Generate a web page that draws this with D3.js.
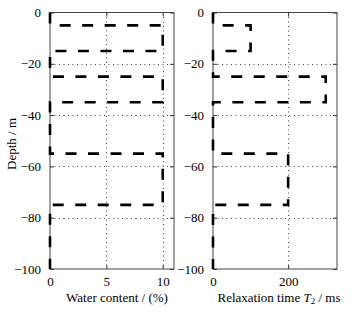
<!DOCTYPE html>
<html><head><meta charset="utf-8">
<script src="https://cdn.jsdelivr.net/npm/d3@7"></script>
<style>
html,body{margin:0;padding:0;background:#fff;}
</style></head>
<body><svg id="c" width="357" height="312"></svg>
<script>
const depths = [0, -5, -5, -15, -15, -25, -25, -35, -35, -55, -55, -75, -75, -100];
const waterContent = [0, 0, 10, 10, 0, 0, 10, 10, 0, 0, 10, 10, 0, 0];
const relaxationT2 = [0, 0, 100, 100, 0, 0, 300, 300, 0, 0, 200, 200, 0, 0];
const depthTicks = [0, -20, -40, -60, -80, -100];
const waterTicks = [0, 5, 10];
const t2Ticks = [0, 200];
const waterDomain = [0, 11];
const t2Domain = [0, 330];

const FONT = "Liberation Serif";
const svg = d3.select("#c");
const plotTop = 12.5, plotBottom = 269;
const y = d3.scaleLinear().domain([0, -100]).range([plotTop, plotBottom]);

function panel(left, right, xDomain, xTicks, values) {
  const x = d3.scaleLinear().domain(xDomain).range([left, right]);
  const g = svg.append("g");
  const grid = g.append("g").attr("stroke", "#444").attr("stroke-width", 1).attr("stroke-dasharray", "1,3.5");
  xTicks.filter(t => t !== xDomain[0] && t !== xDomain[1]).forEach(t => {
    grid.append("line").attr("x1", Math.round(x(t)) + 0.5).attr("x2", Math.round(x(t)) + 0.5).attr("y1", plotTop).attr("y2", plotBottom);
  });
  depthTicks.filter(t => t !== 0 && t !== -100).forEach(t => {
    grid.append("line").attr("y1", Math.round(y(t)) + 0.5).attr("y2", Math.round(y(t)) + 0.5).attr("x1", left).attr("x2", right);
  });
  const axL = g.append("g").attr("transform", `translate(${left},0)`)
    .call(d3.axisLeft(y).tickValues(depthTicks).tickSize(-4).tickPadding(9).tickFormat(d3.format("d")));
  const axR = g.append("g").attr("transform", `translate(${right},0)`)
    .call(d3.axisRight(y).tickValues(depthTicks).tickSize(-4).tickFormat(""));
  const axB = g.append("g").attr("transform", `translate(0,${plotBottom})`)
    .call(d3.axisBottom(x).tickValues(xTicks).tickSize(-4).tickPadding(8).tickFormat(d3.format("d")));
  const axT = g.append("g").attr("transform", `translate(0,${plotTop})`)
    .call(d3.axisTop(x).tickValues(xTicks).tickSize(-4).tickFormat(""));
  [axL, axR, axB, axT].forEach(a => {
    a.attr("font-family", FONT).attr("font-size", 13);
    a.selectAll("path.domain").remove();
    a.selectAll(".tick line").attr("stroke", "#333");
    a.selectAll("text").attr("font-family", FONT).attr("font-size", 13).attr("fill", "#000");
  });
  g.append("rect").attr("x", left).attr("y", plotTop).attr("width", right - left).attr("height", plotBottom - plotTop)
    .attr("fill", "none").attr("stroke", "#444").attr("stroke-width", 1);
  const line = d3.line().x((d, i) => x(values[i])).y(d => y(d));
  g.append("path").datum(depths).attr("d", line)
    .attr("fill", "none").attr("stroke", "#000").attr("stroke-width", 2.6)
    .attr("stroke-dasharray", "11,11.5");
  return g;
}

const g1 = panel(50, 174, waterDomain, waterTicks, waterContent);
g1.append("text").attr("x", 117).attr("y", 302).attr("text-anchor", "middle").attr("font-size", 13)
  .attr("font-family", FONT).text("Water content / (%)");

const g2 = panel(213, 337, t2Domain, t2Ticks, relaxationT2);
const t = g2.append("text").attr("x", 279).attr("y", 302).attr("text-anchor", "middle").attr("font-size", 13)
  .attr("font-family", FONT);
t.append("tspan").text("Relaxation time ");
t.append("tspan").attr("font-style", "italic").text("T");
t.append("tspan").attr("font-size", 9).attr("dy", 2).text("2");
t.append("tspan").attr("dy", -2).text(" / ms");

svg.append("text").attr("transform", `translate(16,144) rotate(-90)`).attr("text-anchor", "middle")
  .attr("font-size", 13).attr("font-family", FONT).text("Depth / m");
</script></body></html>
